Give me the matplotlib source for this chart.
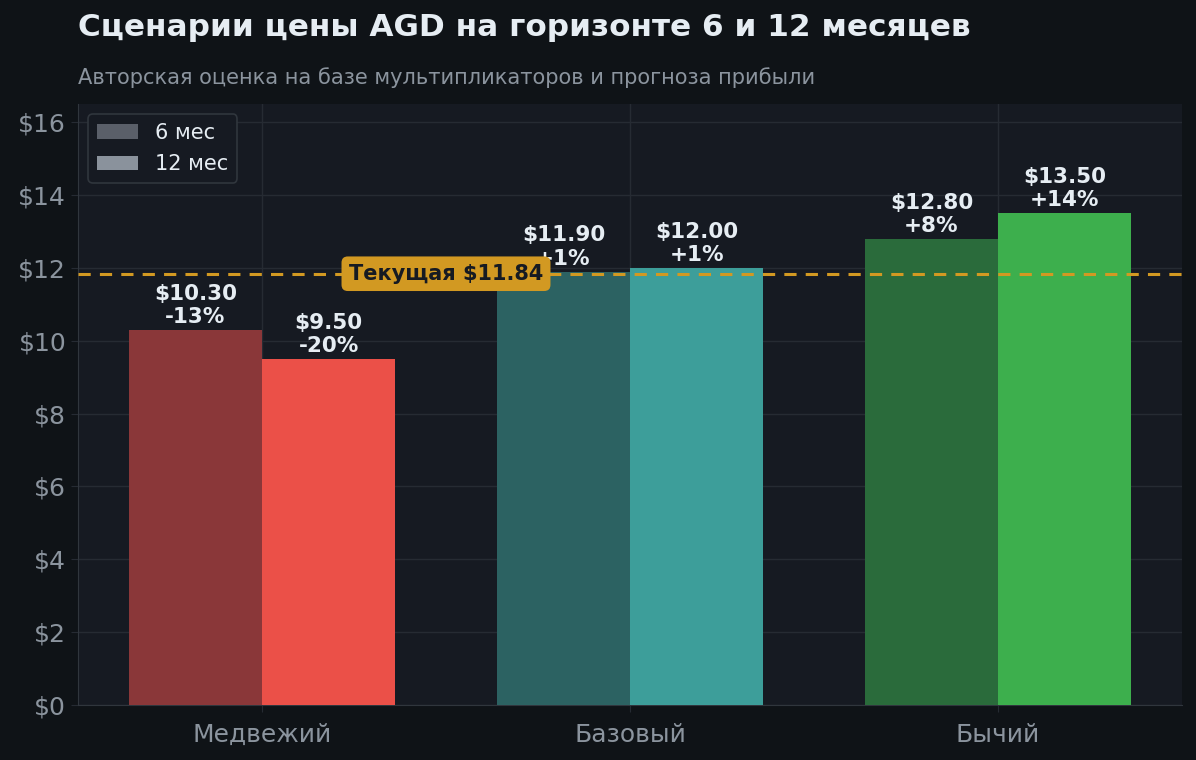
import matplotlib

matplotlib.use("Agg")
import matplotlib.pyplot as plt
import numpy as np

plt.rcParams["font.family"] = ["DejaVu Sans"]

scenarios = ["Медвежий", "Базовый", "Бычий"]
price_6m = [10.30, 11.90, 12.80]
price_12m = [9.50, 12.00, 13.50]
current_price = 11.84

colors_6m = ["#8a3739", "#2c6262", "#2a6b3b"]
colors_12m = ["#eb5048", "#3d9e9a", "#3daf4d"]

BG = "#0f1317"
AX_BG = "#161a22"
GRID = "#262b33"
TEXT = "#e6edf3"
MUTED = "#8b949e"
GOLD = "#d29922"

fig = plt.figure(figsize=(11.96, 7.6), dpi=100, facecolor=BG)
ax = fig.add_axes([78 / 1196, 55 / 760, (1182 - 78) / 1196, (705 - 104) / 760])
ax.set_facecolor(AX_BG)

x = np.arange(len(scenarios))
w = 0.362
bars6 = ax.bar(x - w / 2, price_6m, w, color=colors_6m, zorder=3)
bars12 = ax.bar(x + w / 2, price_12m, w, color=colors_12m, zorder=3)

for bars, vals in [(bars6, price_6m), (bars12, price_12m)]:
    for b, v in zip(bars, vals):
        pct = (v / current_price - 1) * 100
        ax.text(b.get_x() + b.get_width() / 2, v + 0.08, f"${v:.2f}\n{pct:+.0f}%",
                ha="center", va="bottom", color=TEXT, fontsize=15.5,
                fontweight="bold", linespacing=1.2, zorder=4)

ax.axhline(current_price, color=GOLD, ls=(0, (4, 3)), lw=2.2, zorder=5)
ax.text(0.5, current_price, f"Текущая ${current_price:.2f}", ha="center", va="center",
        fontsize=15, fontweight="bold", color="#161a22", zorder=6,
        bbox=dict(boxstyle="round,pad=0.35,rounding_size=0.3", fc=GOLD, ec="none"))

ax.set_xlim(-0.5, 2.5)
ax.set_ylim(0, 16.5)
ax.set_xticks(x)
ax.set_xticklabels(scenarios)
ax.set_yticks(np.arange(0, 17, 2))
ax.set_yticklabels([f"${t}" for t in range(0, 17, 2)])
ax.tick_params(axis="x", colors=GRID, labelcolor=MUTED, labelsize=18, length=5, pad=8)
ax.tick_params(axis="y", colors=GRID, labelcolor=MUTED, labelsize=18, length=5)
ax.grid(True, color=GRID, lw=1, zorder=0)
for s in ["top", "right"]:
    ax.spines[s].set_visible(False)
for s in ["left", "bottom"]:
    ax.spines[s].set_color("#30363d")

h6 = plt.Rectangle((0, 0), 1, 1, fc="#5a5f69")
h12 = plt.Rectangle((0, 0), 1, 1, fc="#8a929c")
leg = ax.legend([h6, h12], ["6 мес", "12 мес"], loc="upper left", fontsize=15,
                labelspacing=0.55, facecolor=AX_BG, edgecolor="#30363d",
                labelcolor=TEXT, framealpha=1)
leg.get_frame().set_linewidth(1.2)

fig.text(78 / 1196, 1 - 28 / 760, "Сценарии цены AGD на горизонте 6 и 12 месяцев",
         ha="left", va="center", fontsize=22.4, fontweight="bold", color=TEXT)
fig.text(78 / 1196, 1 - 78 / 760, "Авторская оценка на базе мультипликаторов и прогноза прибыли",
         ha="left", va="center", fontsize=15.15, color=MUTED)

fig.savefig("out.png", dpi=100, facecolor=BG)
